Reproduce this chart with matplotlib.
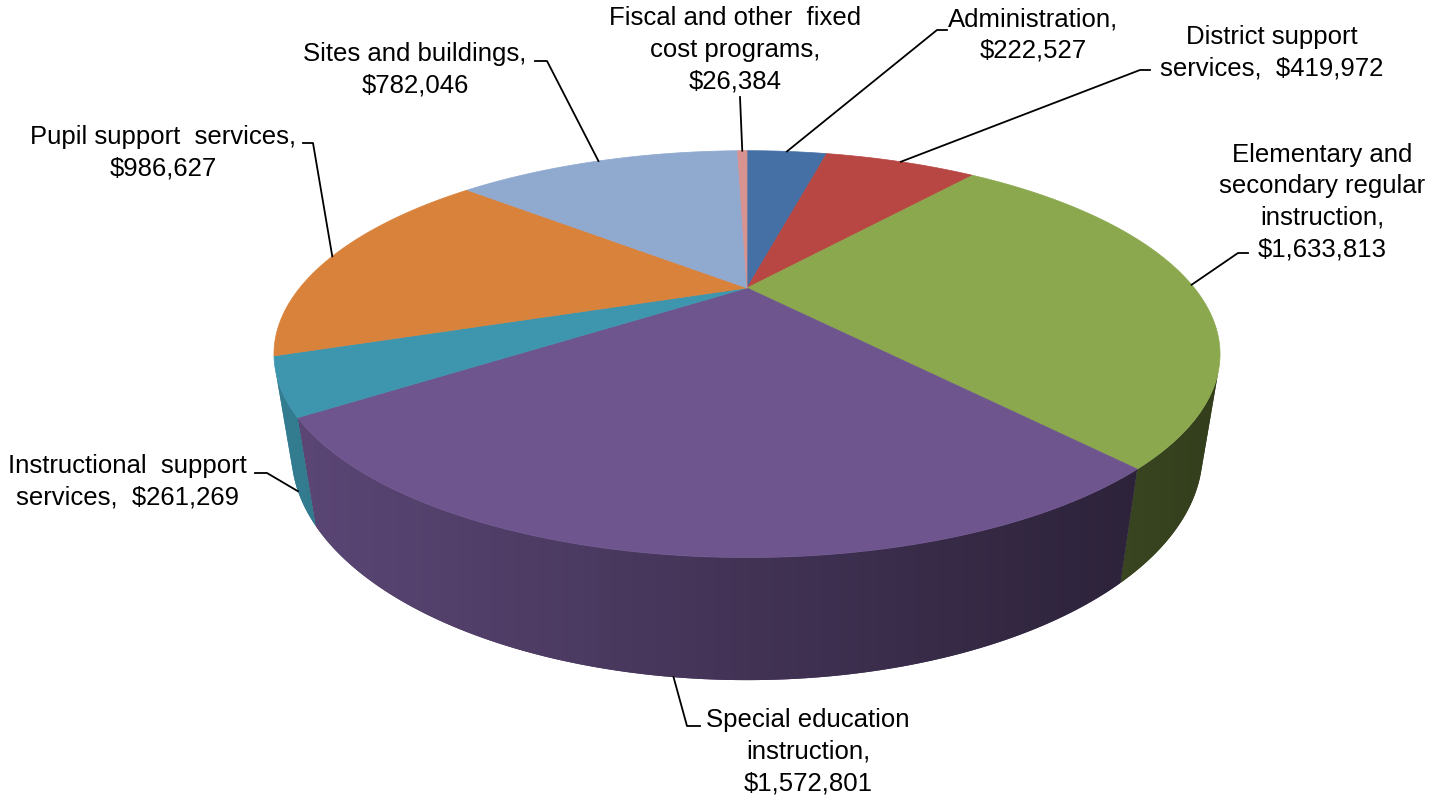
import matplotlib.pyplot as plt
import numpy as np
from matplotlib.patches import Polygon
from matplotlib.colors import to_rgb

plt.rcParams['font.family'] = ['Liberation Sans', 'DejaVu Sans']

# slices, clockwise from 12 o'clock
categories = ["Administration", "District support services",
              "Elementary and secondary regular instruction",
              "Special education instruction", "Instructional support services",
              "Pupil support services", "Sites and buildings",
              "Fiscal and other fixed cost programs"]
values = [222527, 419972, 1633813, 1572801, 261269, 986627, 782046, 26384]
label_names = ["Administration,\n", "District support\nservices,  ",
               "Elementary and\nsecondary regular\ninstruction,\n",
               "Special education\ninstruction,\n", "Instructional  support\nservices,  ",
               "Pupil support  services,\n", "Sites and buildings,\n",
               "Fiscal and other  fixed\ncost programs,\n"]
colors = ["#4470A6", "#B84743", "#8BA84E", "#6E558E",
          "#3E96AE", "#D9823B", "#8FA9CF", "#D89290"]

# view of the 3d disc
elev = np.radians(24)
dist = 2.81
thick = 0.235
scale = 1257.0          # px per unit
apex_px = (747, 288)    # where the centre of the disc lands

# label layout in pixels: text centre, elbow of leader, end of short dash
text_pos = [(1033, 35), (1272, 53), (1322, 202), (808, 752),
            (127, 482), (163, 153), (415, 70), (735, 50)]
elbow_pos = [(937, 30), (1140, 70), (1238, 253), (687, 726),
             (267, 473), (313, 143), (547, 61), (740, 97)]
dash_end = [(947, 30), (1150, 70), (1248, 253), (700, 726),
            (255, 473), (303, 143), (535, 61), (740, 97)]


def proj(phi, r, z):
    X = r*np.sin(phi)
    Y = r*np.cos(phi)
    d = dist + Y*np.cos(elev) - z*np.sin(elev)
    return X/d, (Y*np.sin(elev) + z*np.cos(elev))/d


def px(x, y):
    return (x - apex_px[0])/scale, (apex_px[1] - y)/scale


fig = plt.figure(figsize=(14.47, 8.01), dpi=100)
ax = fig.add_axes([0, 0, 1, 1])
x0, x1 = -apex_px[0]/scale, (1447 - apex_px[0])/scale
y0, y1 = -(801 - apex_px[1])/scale, apex_px[1]/scale
ax.set_xlim(x0, x1)
ax.set_ylim(y0, y1)
ax.axis('off')

vals = np.array(values, dtype=float)
bounds = np.concatenate([[0], np.cumsum(vals/vals.sum())])*2*np.pi

# shading of the side wall, darker to the right
xpix = np.arange(1447)
shade = np.clip(0.82 - 0.0005*(xpix - 310), 0.36, 0.95)

# side walls
for i in range(len(vals)):
    a0, a1 = bounds[i], bounds[i+1]
    phis = np.linspace(a0, a1, max(4, int(np.degrees(a1 - a0))*4))
    vis = -dist*np.cos(elev)*np.cos(phis) - 1 > 0
    if vis.sum() < 2:
        continue
    phis = phis[vis]
    tx, ty = proj(phis, 1, 0)
    bx, by = proj(phis[::-1], 1, -thick)
    pts = list(zip(tx, ty)) + list(zip(bx, by))
    base = np.array(to_rgb(colors[i]))
    mid_col = base*shade[int(np.mean(tx)*scale + apex_px[0])]
    poly = Polygon(pts, closed=True, fc=mid_col, ec='none', zorder=1)
    ax.add_patch(poly)
    grad = np.clip(base[None, None, :]*shade[None, :, None], 0, 1)
    im = ax.imshow(grad, extent=(x0, x1, y0, y1), aspect='auto',
                   interpolation='bilinear', zorder=1.5)
    im.set_clip_path(poly)

# top faces
for i in range(len(vals)):
    a0, a1 = bounds[i], bounds[i+1]
    n = max(2, int(np.degrees(a1 - a0))*2)
    phis = np.linspace(a0, a1, n+1)
    xs, ys = proj(phis, 1, 0)
    pts = [(0, 0)] + list(zip(xs, ys))
    ax.add_patch(Polygon(pts, closed=True, fc=colors[i], ec=colors[i], lw=0.5, zorder=2))

# labels and leader lines
for i in range(len(vals)):
    mid = (bounds[i] + bounds[i+1])/2
    z = -thick if np.cos(mid) < 0 else 0
    rim = proj(mid, 1, z)
    e = px(*elbow_pos[i])
    d = px(*dash_end[i])
    ax.plot([rim[0], e[0], d[0]], [rim[1], e[1], d[1]], color='black', lw=1.3, zorder=3)
    tx, ty = px(*text_pos[i])
    ax.text(tx, ty, label_names[i] + f"${values[i]:,}", ha='center', va='center',
            fontsize=18.5, color='black', linespacing=1.4, zorder=4)

ax.set_xlim(x0, x1)
ax.set_ylim(y0, y1)
plt.savefig("out.png", dpi=100)
